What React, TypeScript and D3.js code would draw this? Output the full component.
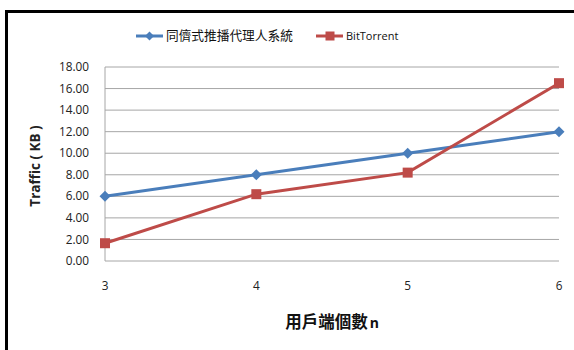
import React from "react";
import * as d3 from "d3";

const categories = [3, 4, 5, 6];
const seriesNames = ["同儕式推播代理人系統", "BitTorrent"];
const proxyValues = [6.0, 8.0, 10.0, 12.0];
const btValues = [1.65, 6.2, 8.2, 16.5];
const yTicks = [0, 2, 4, 6, 8, 10, 12, 14, 16, 18];

const W = 574;
const H = 350;
const BLUE = "#4a7ebb";
const RED = "#be4b48";
const FONT = "'Open Sans', 'Noto Sans', 'Liberation Sans', sans-serif";
const CJK = "'Noto Sans CJK TC', 'Noto Sans CJK SC', sans-serif";

export default function App() {
  const x = d3.scaleLinear().domain([3, 6]).range([105, 559]);
  const y = d3.scaleLinear().domain([0, 18]).range([261, 67]);
  const line = d3
    .line<number>()
    .x((_, i) => x(categories[i]))
    .y((d) => y(d));

  const diamond = (cx: number, cy: number, r: number) =>
    `M${cx},${cy - r}L${cx + r},${cy}L${cx},${cy + r}L${cx - r},${cy}Z`;

  return (
    <svg
      width={W}
      height={H}
      style={{ position: "absolute", left: 0, top: 0, background: "#fff" }}
    >
      {/* frame */}
      <line x1={5} x2={W} y1={11.5} y2={11.5} stroke="#000" strokeWidth={3} />
      <line x1={6.5} x2={6.5} y1={10} y2={H} stroke="#000" strokeWidth={3} />

      {/* gridlines */}
      {yTicks.map((t) => (
        <line
          key={t}
          x1={x(3)}
          x2={x(6)}
          y1={y(t)}
          y2={y(t)}
          stroke="#a6a6a6"
          strokeWidth={1}
        />
      ))}
      <line x1={x(3)} x2={x(3)} y1={y(18)} y2={y(0)} stroke="#a6a6a6" strokeWidth={1} />

      {/* y tick labels */}
      {yTicks.map((t) => (
        <text
          key={t}
          x={89}
          y={y(t)}
          dy="0.35em"
          textAnchor="end"
          fontFamily={FONT}
          fontSize={11.8}
          fill="#222"
        >
          {t.toFixed(2)}
        </text>
      ))}

      {/* x tick labels */}
      {categories.map((c) => (
        <text
          key={c}
          x={x(c)}
          y={290}
          textAnchor="middle"
          fontFamily={FONT}
          fontSize={11.8}
          fill="#222"
        >
          {c}
        </text>
      ))}

      {/* axis titles */}
      <text
        transform={`translate(40,166) rotate(-90)`}
        textAnchor="middle"
        fontFamily={FONT}
        fontWeight="bold"
        fontSize={13.5}
        fill="#222"
      >
        Traffic ( KB )
      </text>
      <text x={332} y={328} textAnchor="middle" fontWeight="bold" fontSize={16.5} fill="#111">
        <tspan fontFamily={CJK}>用戶端個數</tspan>
        <tspan fontFamily={FONT} fontSize={14} dx={2}>n</tspan>
      </text>

      {/* series */}
      <path d={line(proxyValues) || ""} fill="none" stroke={BLUE} strokeWidth={3} />
      <path d={line(btValues) || ""} fill="none" stroke={RED} strokeWidth={3} />
      {proxyValues.map((v, i) => (
        <path key={i} d={diamond(x(categories[i]), y(v), 5.5)} fill={BLUE} />
      ))}
      {btValues.map((v, i) => (
        <rect
          key={i}
          x={x(categories[i]) - 5}
          y={y(v) - 5}
          width={10}
          height={10}
          fill={RED}
        />
      ))}

      {/* legend */}
      <line x1={136} x2={163} y1={36} y2={36} stroke={BLUE} strokeWidth={3} />
      <path d={diamond(149.5, 36, 4.5)} fill={BLUE} />
      <text x={166} y={36} dy="0.35em" fontFamily={CJK} fontSize={12.7} fill="#111">
        {seriesNames[0]}
      </text>
      <line x1={316} x2={343} y1={36} y2={36} stroke={RED} strokeWidth={3} />
      <rect x={325.5} y={31.5} width={9} height={9} fill={RED} />
      <text x={346} y={36} dy="0.35em" fontFamily={FONT} fontSize={11} fill="#111">
        {seriesNames[1]}
      </text>
    </svg>
  );
}
